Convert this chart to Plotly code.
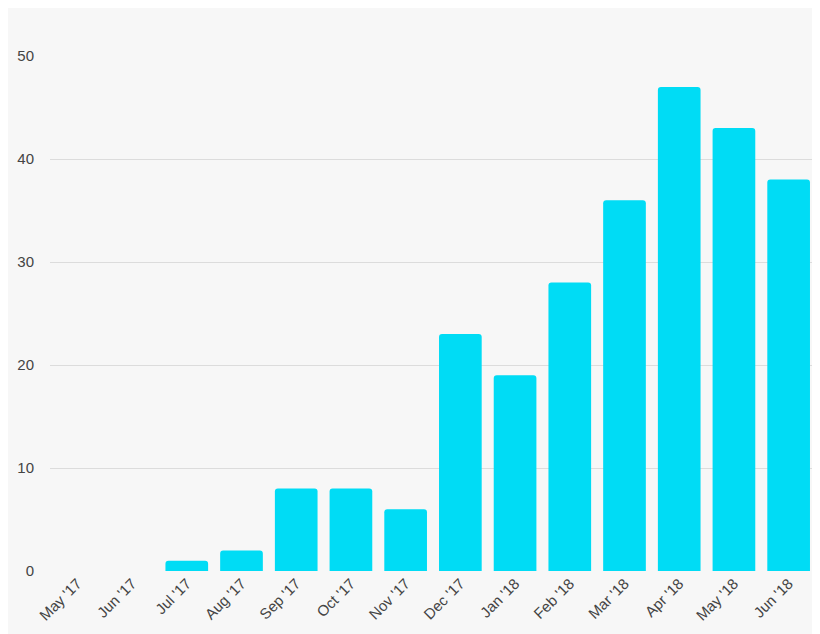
import plotly.graph_objects as go

months = ["May '17","Jun '17","Jul '17","Aug '17","Sep '17","Oct '17","Nov '17",
          "Dec '17","Jan '18","Feb '18","Mar '18","Apr '18","May '18","Jun '18"]
counts = [0,0,1,2,8,8,6,23,19,28,36,47,43,38]

fig = go.Figure(go.Bar(x=months, y=counts, marker_color="#00dcf5", marker_line_width=0))
fig.update_layout(
    width=820, height=634, margin=dict(l=42, r=12, t=48, b=71),
    paper_bgcolor="#f7f7f7", plot_bgcolor="#f7f7f7",
    bargap=0.22, barcornerradius=3, showlegend=False,
    font=dict(family="Liberation Sans, Arial, sans-serif", size=15, color="#444"),
)
fig.update_xaxes(tickangle=-45, showgrid=False, ticks="", showline=False, automargin=False)
fig.update_yaxes(range=[0, 50], dtick=10, gridcolor="#dcdcdc", zeroline=False,
                 ticks="outside", ticklen=12, tickcolor="rgba(0,0,0,0)", automargin=False)
fig.write_html("out.html")
